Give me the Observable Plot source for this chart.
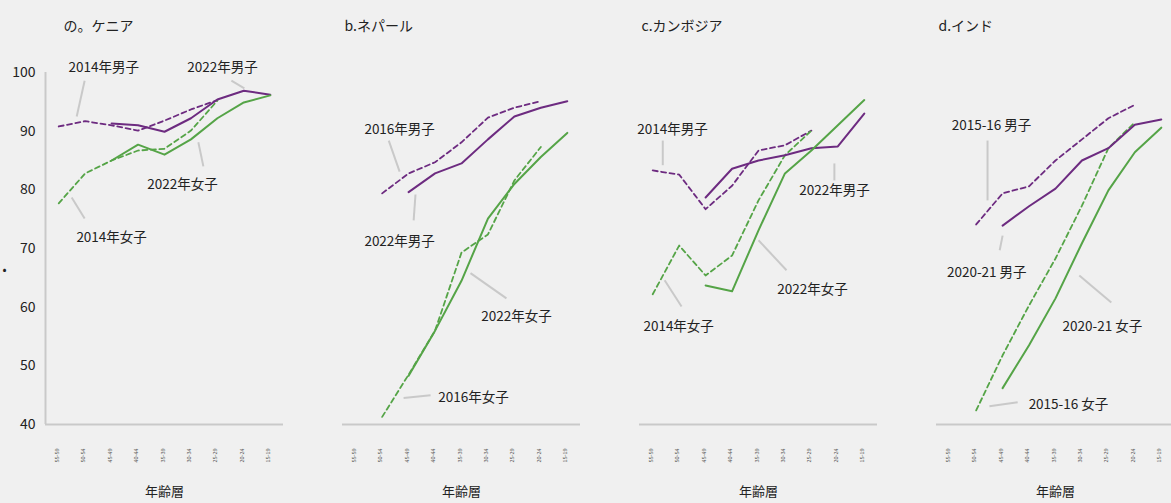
<!DOCTYPE html>
<html><head><meta charset="utf-8">
<script src="https://cdn.jsdelivr.net/npm/d3@7"></script>
<script src="https://cdn.jsdelivr.net/npm/@observablehq/plot@0.6"></script>
<style>
html,body{margin:0;padding:0;background:#f0f0f0;}
#chart{width:1171px;height:503px;overflow:hidden;}
</style></head><body><div id="chart"></div>
<script>
const countries = ["Kenya", "Nepal", "Cambodia", "India"];
const countryTitles = ["の。ケニア", "b.ネパール", "c.カンボジア", "d.インド"];
const ageGroups = ["55-59", "50-54", "45-49", "40-44", "35-39", "30-34", "25-29", "20-24", "15-19"];
const yTicks = [40, 50, 60, 70, 80, 90, 100];
const xAxisTitle = "年齢層";

// values by age group (null = not surveyed)
const kenyaMaleNew   = [null, null, 91.3, 91.0, 89.9, 92.2, 95.4, 96.9, 96.2];
const kenyaMaleOld   = [90.8, 91.7, 91.0, 90.1, 91.8, 93.7, 95.3, null, null];
const kenyaFemaleNew = [null, null, 85.0, 87.7, 86.0, 88.6, 92.2, 94.9, 96.1];
const kenyaFemaleOld = [77.7, 82.8, 85.0, 86.7, 87.0, 90.1, 95.2, null, null];

const nepalMaleNew   = [null, null, 79.6, 82.8, 84.5, 88.6, 92.5, 94.0, 95.1];
const nepalMaleOld   = [null, 79.4, 82.8, 84.7, 88.1, 92.3, 94.0, 95.1, null];
const nepalFemaleNew = [null, null, 48.3, 56.0, 64.5, 75.1, 81.0, 85.6, 89.7];
const nepalFemaleOld = [null, 41.3, 48.5, 56.0, 69.3, 72.4, 81.6, 87.3, null];

const cambodiaMaleNew   = [null, null, 78.7, 83.6, 85.0, 85.9, 87.1, 87.4, 93.0];
const cambodiaMaleOld   = [83.3, 82.6, 76.7, 80.7, 86.7, 87.6, 90.1, null, null];
const cambodiaFemaleNew = [null, null, 63.7, 62.7, 73.1, 82.8, 86.7, 91.0, 95.3];
const cambodiaFemaleOld = [62.2, 70.5, 65.4, 68.8, 78.2, 85.9, 90.1, null, null];

const indiaMaleNew   = [null, null, 73.9, 77.2, 80.2, 85.0, 87.1, 91.1, 92.0];
const indiaMaleOld   = [null, 74.1, 79.4, 80.6, 85.0, 88.6, 92.2, 94.5, null];
const indiaFemaleNew = [null, null, 46.2, 53.5, 61.5, 70.9, 79.9, 86.4, 90.6];
const indiaFemaleOld = [null, 42.4, 51.8, 60.3, 68.3, 77.3, 87.1, 91.5, null];

// annotations: country, label, anchor (age index, value)
const annCountry = ["Kenya","Kenya","Kenya","Kenya","Nepal","Nepal","Nepal","Nepal","Cambodia","Cambodia","Cambodia","Cambodia","India","India","India","India"];
const annText = ["2014年男子","2022年男子","2022年女子","2014年女子","2016年男子","2022年男子","2022年女子","2016年女子","2014年男子","2022年男子","2022年女子","2014年女子","2015-16 男子","2020-21 男子","2020-21 女子","2015-16 女子"];
const annX = [1.7, 6.19, 4.68, 2.0, 1.66, 1.66, 6.08, 4.45, 0.75, 6.87, 6.04, 0.98, 1.58, 1.4, 5.77, 4.49];
const annY = [100.85, 100.85, 80.9, 71.9, 90.3, 71.2, 58.4, 44.6, 90.3, 79.9, 63.0, 56.6, 91.0, 65.9, 56.7, 43.4];
// leader lines
const leadX1 = [0.98, 6.53, 5.47, 0.49, 1.25, 2.19, 5.7, 2.83, 0.38, 6.87, 5.06, 1.09, 1.43, 1.89, 6.11, 2.57];
const leadY1 = [98.6, 98.6, 84.0, 78.7, 88.4, 74.8, 61.5, 45.0, 88.4, 81.6, 66.3, 60.1, 88.4, 69.7, 60.8, 43.8];
const leadX2 = [0.68, 7.02, 5.28, 0.98, 1.66, 2.26, 4.34, 1.81, 0.38, 6.87, 4.0, 0.45, 1.43, 2.0, 4.9, 1.5];
const leadY2 = [92.5, 97.3, 88.1, 75.1, 83.1, 79.2, 65.8, 44.5, 84.2, 84.5, 71.4, 64.6, 78.2, 72.2, 65.4, 43.1];

const seriesDefs = [
  ["Kenya", "male", "new", kenyaMaleNew], ["Kenya", "male", "old", kenyaMaleOld],
  ["Kenya", "female", "new", kenyaFemaleNew], ["Kenya", "female", "old", kenyaFemaleOld],
  ["Nepal", "male", "new", nepalMaleNew], ["Nepal", "male", "old", nepalMaleOld],
  ["Nepal", "female", "new", nepalFemaleNew], ["Nepal", "female", "old", nepalFemaleOld],
  ["Cambodia", "male", "new", cambodiaMaleNew], ["Cambodia", "male", "old", cambodiaMaleOld],
  ["Cambodia", "female", "new", cambodiaFemaleNew], ["Cambodia", "female", "old", cambodiaFemaleOld],
  ["India", "male", "new", indiaMaleNew], ["India", "male", "old", indiaMaleOld],
  ["India", "female", "new", indiaFemaleNew], ["India", "female", "old", indiaFemaleOld]
];
const rows = seriesDefs.flatMap(([country, sex, survey, vals]) =>
  vals.map((v, i) => ({country, sex, survey, key: country + sex + survey, i, v})));

const titles = countries.map((c, k) => ({country: c, title: countryTitles[k]}));
const tickRows = countries.flatMap(c => ageGroups.map((a, i) => ({country: c, i, label: a})));
const anns = annText.map((t, k) => ({country: annCountry[k], text: t, x: annX[k], y: annY[k]}));
const leads = annText.map((t, k) => ({country: annCountry[k], x1: leadX1[k], y1: leadY1[k], x2: leadX2[k], y2: leadY2[k]}));

const PURPLE = "#6d2b80", GREEN = "#55a447", GRAY = "#c9c9c9";
const font = "'Noto Sans CJK JP', 'Noto Sans', sans-serif";

const chart = Plot.plot({
  width: 1171, height: 503,
  marginLeft: 44, marginRight: -4, marginTop: 72, marginBottom: 79,
  style: {background: "#f0f0f0", fontFamily: font, color: "#222", overflow: "visible"},
  fx: {domain: countries, paddingInner: 0.2, paddingOuter: 0, axis: null, label: null},
  x: {domain: [-0.5, 8.5], axis: null},
  y: {domain: [40, 100], axis: null},
  color: {domain: ["male", "female"], range: [PURPLE, GREEN]},
  marks: [
    Plot.ruleY([40], {stroke: GRAY, strokeWidth: 2}),
    Plot.ruleX([{country: "Kenya"}], {fx: "country", x: () => -0.5, y1: 40, y2: 100, stroke: GRAY, strokeWidth: 2}),
    Plot.text(yTicks.map(t => ({country: "Kenya", t})), {fx: "country", x: () => -0.5, y: "t", text: d => String(d.t), textAnchor: "end", dx: -10, fontSize: 14}),
    Plot.text([{country: "Kenya"}], {fx: "country", x: () => -0.5, y: () => 66.3, text: () => "•", dx: -41, fontSize: 12}),
    Plot.link(leads, {fx: "country", x1: "x1", y1: "y1", x2: "x2", y2: "y2", stroke: GRAY, strokeWidth: 2}),
    Plot.line(rows.filter(d => d.survey === "old"), {fx: "country", x: "i", y: "v", z: "key", stroke: "sex", strokeWidth: 1.8, strokeDasharray: "5,3.5"}),
    Plot.line(rows.filter(d => d.survey === "new"), {fx: "country", x: "i", y: "v", z: "key", stroke: "sex", strokeWidth: 2}),
    Plot.text(anns, {fx: "country", x: "x", y: "y", text: "text", fontSize: 13.5, fill: "#222"}),
    Plot.text(titles.filter(d => d.country === "Kenya"), {fx: "country", text: "title", frameAnchor: "top-left", dx: 18, dy: -51, fontSize: 14}),
    Plot.text(titles.filter(d => d.country !== "Kenya"), {fx: "country", text: "title", frameAnchor: "top-left", dx: 2, dy: -51, fontSize: 14}),
    Plot.text(tickRows, {fx: "country", x: "i", text: "label", frameAnchor: "bottom", dy: 31, rotate: -90, fontSize: 5.5, fill: "#555"}),
    Plot.text(countries.map(c => ({country: c})), {fx: "country", text: () => xAxisTitle, frameAnchor: "bottom", dy: 71, fontSize: 13})
  ]
});
document.getElementById("chart").appendChild(chart);
</script></body></html>
